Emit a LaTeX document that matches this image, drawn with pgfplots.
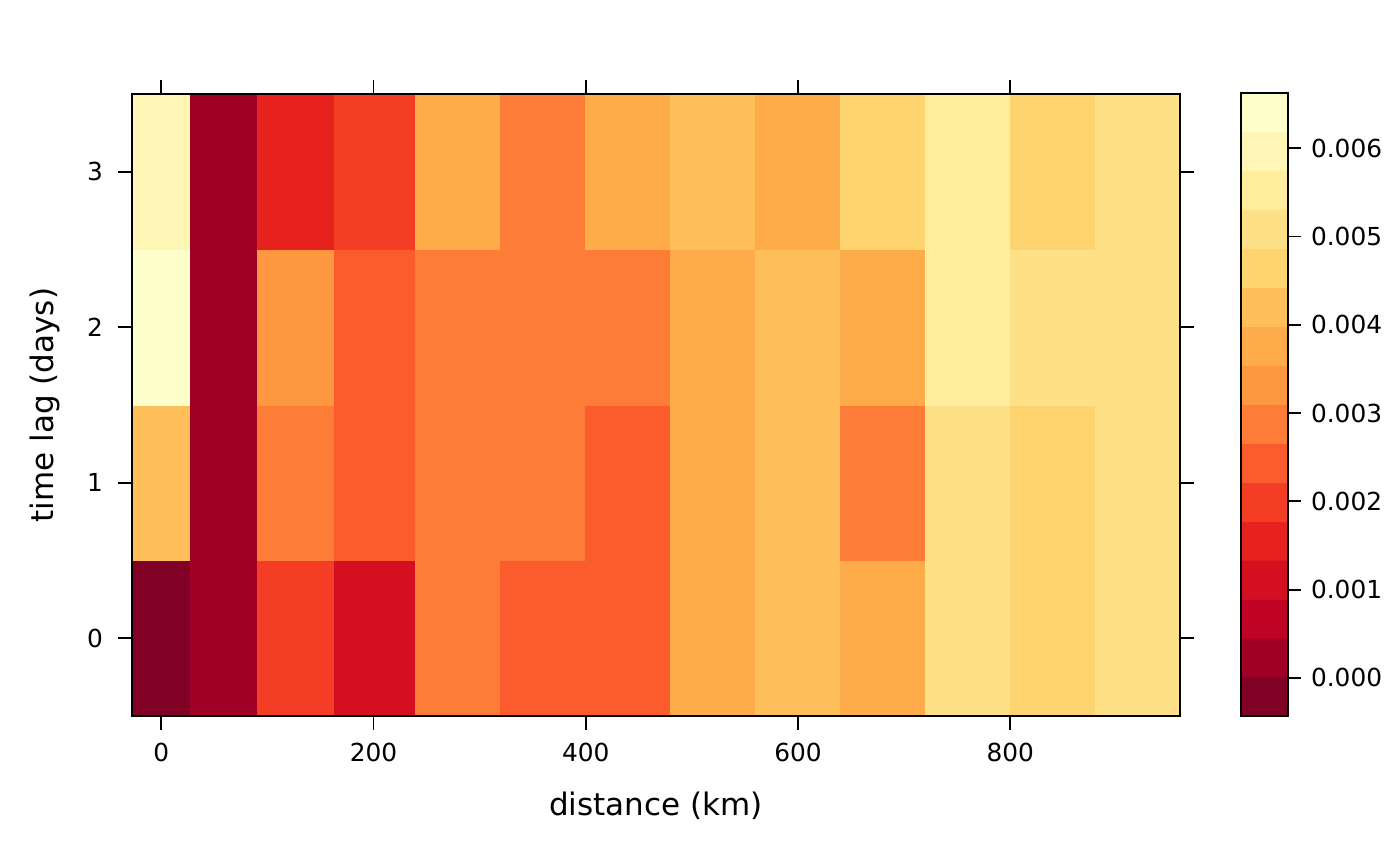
\documentclass[border=0pt]{standalone}
\usepackage{pgfplots}
\usepackage{pgfplotstable}
\pgfplotsset{compat=1.18}
\usepackage{fontspec}
\setmainfont{DejaVu Sans}
\setsansfont{DejaVu Sans}

% cell values (distance, time lag, value)
\pgfplotstableread{
x y z
0 0 -0.000431
55 0 0.000230
127 0 0.001995
200 0 0.001113
280 0 0.002877
360 0 0.002436
440 0 0.002436
520 0 0.003759
600 0 0.004200
680 0 0.003759
760 0 0.005082
840 0 0.004641
920 0 0.005082
0 1 0.004200
55 1 0.000230
127 1 0.002877
200 1 0.002436
280 1 0.002877
360 1 0.002877
440 1 0.002436
520 1 0.003759
600 1 0.004200
680 1 0.002877
760 1 0.005082
840 1 0.004641
920 1 0.005082
0 2 0.006624
55 2 0.000230
127 2 0.003318
200 2 0.002436
280 2 0.002877
360 2 0.002877
440 2 0.002877
520 2 0.003759
600 2 0.004200
680 2 0.003759
760 2 0.005523
840 2 0.005082
920 2 0.005082
0 3 0.005964
55 3 0.000230
127 3 0.001554
200 3 0.001995
280 3 0.003759
360 3 0.002877
440 3 0.003759
520 3 0.004200
600 3 0.003759
680 3 0.004641
760 3 0.005523
840 3 0.004641
920 3 0.005082
}\celltable

% colour key bands (two columns so the matrix has width)
\pgfplotstableread{
x y z
0 -0.0002105 -0.0002105
1 -0.0002105 -0.0002105
0 0.0002305 0.0002305
1 0.0002305 0.0002305
0 0.0006715 0.0006715
1 0.0006715 0.0006715
0 0.0011125 0.0011125
1 0.0011125 0.0011125
0 0.0015535 0.0015535
1 0.0015535 0.0015535
0 0.0019945 0.0019945
1 0.0019945 0.0019945
0 0.0024355 0.0024355
1 0.0024355 0.0024355
0 0.0028765 0.0028765
1 0.0028765 0.0028765
0 0.0033175 0.0033175
1 0.0033175 0.0033175
0 0.0037585 0.0037585
1 0.0037585 0.0037585
0 0.0041995 0.0041995
1 0.0041995 0.0041995
0 0.0046405 0.0046405
1 0.0046405 0.0046405
0 0.0050815 0.0050815
1 0.0050815 0.0050815
0 0.0055225 0.0055225
1 0.0055225 0.0055225
0 0.0059635 0.0059635
1 0.0059635 0.0059635
0 0.0064045 0.0064045
1 0.0064045 0.0064045
}\keytable

\pgfplotsset{
  colormap={ylorrd}{rgb255=(128,0,38) rgb255=(160,0,38) rgb255=(192,2,37) rgb255=(212,16,32)
    rgb255=(230,33,30) rgb255=(244,61,37) rgb255=(252,91,46) rgb255=(253,124,55)
    rgb255=(253,151,64) rgb255=(254,171,73) rgb255=(254,191,90) rgb255=(254,212,112)
    rgb255=(254,225,135) rgb255=(255,236,157) rgb255=(255,245,181) rgb255=(255,255,204)},
}

\begin{document}
\begin{tikzpicture}
\path[use as bounding box] (0,0) rectangle (700pt,433pt);
\begin{axis}[
  at={(66pt,75pt)}, anchor=south west,
  scale only axis, width=524pt, height=311pt,
  xmin=-27.5, xmax=960, ymin=-0.5, ymax=3.5,
  xtick={0,200,400,600,800}, ytick={0,1,2,3},
  tick align=outside, major tick length=7pt,
  tick style={line width=0.9pt, black},
  axis line style={line width=0.9pt},
  xticklabel pos=lower, yticklabel pos=left,
  ticklabel style={font=\fontsize{12.4}{14}\selectfont},
  xticklabel style={yshift=-3pt},
  yticklabel style={xshift=-4pt},
  /pgf/number format/assume math mode=true,
  xlabel={distance (km)}, ylabel={time lag (days)},
  label style={font=\fontsize{15.5}{18}\selectfont},
  xlabel style={at={(axis description cs:0.5,-0.1447)}, anchor=center},
  ylabel style={at={(axis description cs:-0.083,0.5)}, anchor=center},
  colormap name=ylorrd, colormap access=piecewise constant,
  point meta min=-0.000431, point meta max=0.006624,
  axis on top,
]
\addplot[matrix plot*, mesh/cols=13, point meta=explicit] table[x=x, y=y, meta=z] {\celltable};
\end{axis}
\begin{axis}[
  at={(620.5pt,75pt)}, anchor=south west,
  scale only axis, width=23.5pt, height=311.5pt,
  xmin=-0.5, xmax=1.5, ymin=-0.000431, ymax=0.006624,
  xtick=\empty,
  ytick={0,0.001,0.002,0.003,0.004,0.005,0.006},
  yticklabels={0.000,0.001,0.002,0.003,0.004,0.005,0.006},
  scaled y ticks=false,
  ytick pos=right, yticklabel pos=right,
  tick align=outside, major tick length=6.5pt,
  tick style={line width=0.9pt, black},
  axis line style={line width=0.9pt},
  ticklabel style={font=\fontsize{12.4}{14}\selectfont},
  yticklabel style={xshift=1.5pt},
  colormap name=ylorrd, colormap access=piecewise constant,
  point meta min=-0.000431, point meta max=0.006624,
  axis on top,
]
\addplot[matrix plot*, mesh/cols=2, point meta=explicit] table[x=x, y=y, meta=z] {\keytable};
\end{axis}
\end{tikzpicture}
\end{document}
